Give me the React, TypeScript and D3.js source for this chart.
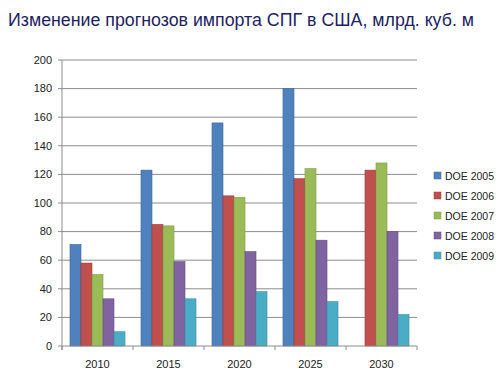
import React from "react";
import * as d3 from "d3";

const categories = ["2010", "2015", "2020", "2025", "2030"];
const seriesNames = ["DOE 2005", "DOE 2006", "DOE 2007", "DOE 2008", "DOE 2009"];
const doe2005 = [71, 123, 156, 180, null];
const doe2006 = [58, 85, 105, 117, 123];
const doe2007 = [50, 84, 104, 124, 128];
const doe2008 = [33, 59, 66, 74, 80];
const doe2009 = [10, 33, 38, 31, 22];
const yTicks = [0, 20, 40, 60, 80, 100, 120, 140, 160, 180, 200];
const colors = ["#4f81bd", "#c0504d", "#9bbb59", "#8064a2", "#4bacc6"];
const strokes = ["#3a6598", "#9c3b38", "#7d9a44", "#634d82", "#3a8ea6"];

const seriesValues = [doe2005, doe2006, doe2007, doe2008, doe2009];

export default function App() {
  const left = 62, right = 417, top = 60, bottom = 346;
  const x = d3.scaleBand().domain(categories).range([left, right]).paddingInner(0.225).paddingOuter(0.1125);
  const x1 = d3.scaleBand().domain(seriesNames).range([0, x.bandwidth()]);
  const y = d3.scaleLinear().domain([0, 200]).range([bottom, top]);
  const step = (right - left) / categories.length;
  const font = "'Liberation Sans', Arial, sans-serif";
  return (
    <svg width={500} height={380} style={{ position: "absolute", left: 0, top: 0, background: "#fff" }}>
      <text x={8} y={26} fontFamily={font} fontSize={17.5} fill="#1c2260" textLength={466} lengthAdjust="spacingAndGlyphs">
        Изменение прогнозов импорта СПГ в США, млрд. куб. м
      </text>
      {yTicks.map((t) => (
        <g key={t}>
          {t > 0 && <line x1={left} x2={right} y1={y(t)} y2={y(t)} stroke="#8c8c8c" strokeWidth={1} />}
          <line x1={left - 4} x2={left} y1={y(t)} y2={y(t)} stroke="#8c8c8c" />
          <text x={left - 10} y={y(t)} dy="0.35em" textAnchor="end" fontFamily={font} fontSize={11} fill="#222">
            {t}
          </text>
        </g>
      ))}
      {categories.map((c, i) => (
        <g key={c}>
          {seriesValues.map((vals, s) => {
            const v = vals[i];
            if (v == null) return null;
            return (
              <rect
                key={s}
                x={(x(c) as number) + (x1(seriesNames[s]) as number)}
                y={y(v)}
                width={x1.bandwidth()}
                height={bottom - y(v)}
                fill={colors[s]}
                stroke={strokes[s]}
                strokeWidth={0.6}
              />
            );
          })}
          <text x={(x(c) as number) + x.bandwidth() / 2} y={368} textAnchor="middle" fontFamily={font} fontSize={11} fill="#222">
            {c}
          </text>
        </g>
      ))}
      <line x1={left} x2={left} y1={top} y2={bottom + 4} stroke="#8c8c8c" />
      <line x1={left} x2={right} y1={bottom} y2={bottom} stroke="#8c8c8c" />
      {d3.range(categories.length + 1).map((i) => (
        <line key={i} x1={left + i * step} x2={left + i * step} y1={bottom} y2={bottom + 4} stroke="#8c8c8c" />
      ))}
      {seriesNames.map((n, s) => (
        <g key={n} transform={`translate(434, ${176 + s * 20})`}>
          <rect x={0} y={-4} width={7} height={7} fill={colors[s]} stroke={strokes[s]} strokeWidth={0.5} />
          <text x={11} y={0} dy="0.35em" fontFamily={font} fontSize={10.5} fill="#222">
            {n}
          </text>
        </g>
      ))}
    </svg>
  );
}
